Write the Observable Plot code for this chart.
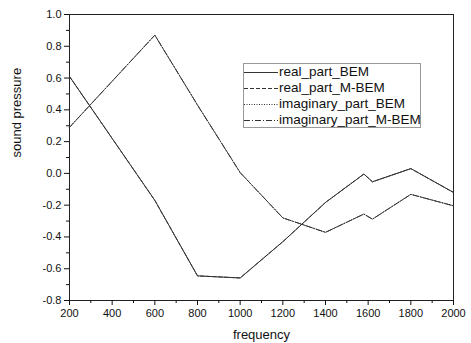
<!DOCTYPE html>
<html>
<head>
<meta charset="utf-8">
<script src="https://cdn.jsdelivr.net/npm/d3@7"></script>
<script src="https://cdn.jsdelivr.net/npm/@observablehq/plot@0.6"></script>
<style>
  html, body { margin: 0; padding: 0; background: #fff; }
  #wrap { position: relative; width: 471px; height: 343px; font-family: "Liberation Sans", Arial, sans-serif; }
  #legend { position: absolute; left: 243px; top: 63px; width: 178px; height: 65px; border: 1px solid #999; background: #fff; box-sizing: border-box; }
  #legend .row { position: absolute; left: 0; height: 16px; font-size: 13.5px; line-height: 16px; color: #111; white-space: nowrap; }
  #legend svg { position: absolute; left: 0; top: 0; }
  #legend span { position: absolute; left: 35px; top: 0; }
</style>
</head>
<body>
<div id="wrap"></div>
<script>
const freqs = [200, 400, 600, 800, 1000, 1200, 1400, 1580, 1620, 1800, 2000];
const realBEM = [0.61, 0.22, -0.17, -0.645, -0.658, -0.43, -0.183, -0.004, -0.053, 0.03, -0.12];
const realMBEM = [0.61, 0.22, -0.17, -0.645, -0.658, -0.43, -0.183, -0.004, -0.053, 0.03, -0.12];
const imagBEM = [0.29, 0.58, 0.87, 0.43, 0.005, -0.28, -0.371, -0.256, -0.288, -0.132, -0.204];
const imagMBEM = [0.29, 0.58, 0.87, 0.43, 0.005, -0.28, -0.371, -0.256, -0.288, -0.132, -0.204];
const seriesNames = ["real_part_BEM", "real_part_M-BEM", "imaginary_part_BEM", "imaginary_part_M-BEM"];
const xTicks = [200, 400, 600, 800, 1000, 1200, 1400, 1600, 1800, 2000];
const yTicks = [-0.8, -0.6, -0.4, -0.2, 0.0, 0.2, 0.4, 0.6, 0.8, 1.0];
const xLabel = "frequency";
const yLabel = "sound pressure";

const dashes = [null, "4,2", "1,1.5", "6,2,1,2"];
const seriesValues = [realBEM, realMBEM, imagBEM, imagMBEM];
const data = seriesNames.flatMap((name, i) => freqs.map((f, j) => ({series: name, freq: f, value: seriesValues[i][j]})));

const xMinor = d3.range(300, 2000, 200);
const yMinor = d3.range(-7, 10, 2).map(v => v / 10);

const lineMarks = seriesNames.map((name, i) => Plot.line(data.filter(d => d.series === name), {
  x: "freq", y: "value", stroke: "#333", strokeWidth: 1, strokeDasharray: dashes[i]
}));

const chart = Plot.plot({
  width: 471,
  height: 343,
  marginLeft: 69,
  marginRight: 18,
  marginTop: 14,
  marginBottom: 43,
  style: {fontFamily: "'Liberation Sans', Arial, sans-serif", fontSize: "11px", color: "#111", background: "#fff"},
  x: {domain: [200, 2000]},
  y: {domain: [-0.8, 1.0]},
  marks: [
    Plot.frame({stroke: "#222", strokeWidth: 1}),
    ...lineMarks,
    Plot.axisX({ticks: xTicks, tickSize: 5, tickPadding: 4, tickFormat: d => String(d), fontSize: 11, label: null}),
    Plot.axisX({ticks: xMinor, tickSize: 3, text: null, label: null}),
    Plot.axisY({ticks: yTicks, tickSize: 5, tickPadding: 3, tickFormat: d => d.toFixed(1), fontSize: 11, label: null}),
    Plot.axisY({ticks: yMinor, tickSize: 3, text: null, label: null}),
    Plot.text([xLabel], {frameAnchor: "bottom", dy: 38, fontSize: 13, fill: "#111"}),
    Plot.text([yLabel], {frameAnchor: "left", dx: -53, rotate: -90, fontSize: 13, fill: "#111"})
  ]
});

const wrap = document.getElementById("wrap");
wrap.appendChild(chart);

const legend = document.createElement("div");
legend.id = "legend";
seriesNames.forEach((name, i) => {
  const row = document.createElement("div");
  row.className = "row";
  row.style.top = (i * 16) + "px";
  row.style.width = "176px";
  const svgNS = "http://www.w3.org/2000/svg";
  const svg = document.createElementNS(svgNS, "svg");
  svg.setAttribute("width", "35");
  svg.setAttribute("height", "16");
  const ln = document.createElementNS(svgNS, "line");
  ln.setAttribute("x1", "0"); ln.setAttribute("x2", "34");
  ln.setAttribute("y1", "8.5"); ln.setAttribute("y2", "8.5");
  ln.setAttribute("stroke", "#333"); ln.setAttribute("stroke-width", "1");
  if (dashes[i]) ln.setAttribute("stroke-dasharray", dashes[i]);
  svg.appendChild(ln);
  row.appendChild(svg);
  const sp = document.createElement("span");
  sp.textContent = name;
  row.appendChild(sp);
  legend.appendChild(row);
});
wrap.appendChild(legend);
</script>
</body>
</html>
